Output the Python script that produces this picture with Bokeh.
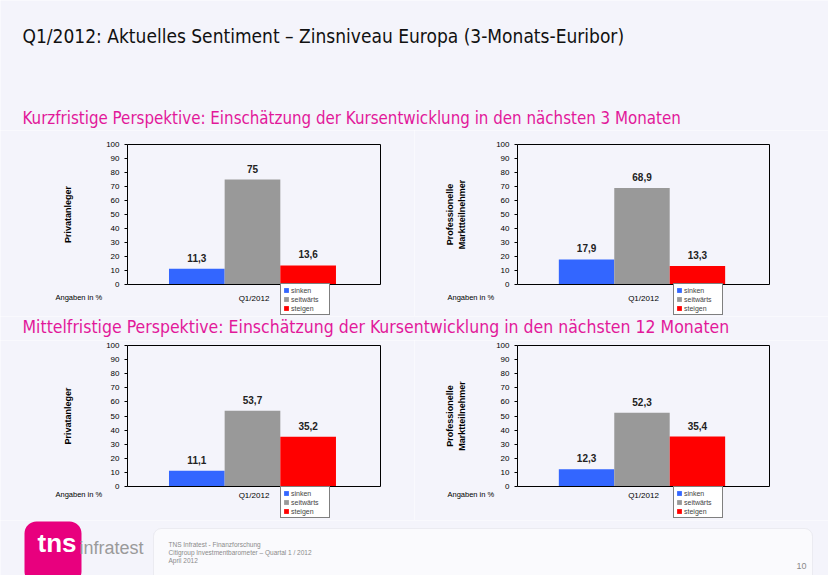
from bokeh.plotting import figure
from bokeh.layouts import column, row
from bokeh.models import (Range1d, Label, Legend, LegendItem, BoxAnnotation, ColumnDataSource,
                          LinearAxis, FixedTicker)
from bokeh.embed import file_html
from bokeh.resources import INLINE
from bokeh.core.properties import value

# ---------------- data ----------------
title_text = "Q1/2012: Aktuelles Sentiment \u2013 Zinsniveau Europa (3-Monats-Euribor)"
subtitle_short = "Kurzfristige Perspektive: Einsch\u00e4tzung der Kursentwicklung in den n\u00e4chsten 3 Monaten"
subtitle_mid = "Mittelfristige Perspektive: Einsch\u00e4tzung der Kursentwicklung in den n\u00e4chsten 12 Monaten"
period = ["Q1/2012"]
categories = ["sinken", "seitw\u00e4rts", "steigen"]
colors = ["#3366ff", "#999999", "#ff0000"]
y_ticks = [0, 10, 20, 30, 40, 50, 60, 70, 80, 90, 100]
kurz_privat = [11.3, 75.0, 13.6]
kurz_prof = [17.9, 68.9, 13.3]
mittel_privat = [11.1, 53.7, 35.2]
mittel_prof = [12.3, 52.3, 35.4]
label_privat = "Privatanleger"
label_prof = "Professionelle\nMarktteilnehmer"
unit_note = "Angaben in %"
footer_lines = ["TNS Infratest - Finanzforschung",
                "Citigroup Investmentbarometer \u2013 Quartal 1 / 2012",
                "April 2012"]
page_no = "10"
logo_main = "tns"
logo_side = "infratest"

# ---------------- style ----------------
BG = "#f4f4fb"
FONT = "Liberation Sans"
COND = "DejaVu Sans Condensed"
MAGENTA = "#e2189a"
offsets = [-0.226, -0.006, 0.214]
bar_w = 0.22


def fmt(v):
    return ("%g" % v).replace(".", ",")


def base_fig(W, H, xr, yr):
    p = figure(output_backend="svg", toolbar_location=None, tools="",
               frame_width=W, frame_height=H, min_border=0,
               x_range=xr, y_range=yr, x_axis_location=None, y_axis_location=None)
    p.border_fill_color = BG
    p.background_fill_color = BG
    p.outline_line_color = None
    p.grid.visible = False
    return p


def chart(values, ylabel, W, H, pl, pw, pt, ph, std_lab, x_std, note_x, note_y, leg_x, leg_y):
    # plot area [0,1] x [0,100] placed at pixel box (pl, pt, pw, ph) of a W x H figure
    xr = Range1d(-pl / pw, 1 + (W - pl - pw) / pw)
    s = ph / 100.0
    yr = Range1d(-(H - pt - ph) / s, 100 + pt / s)
    p = base_fig(W, H, xr, yr)
    items = []
    for i, cat in enumerate(categories):
        xs = [k + 0.5 + offsets[i] for k in range(len(period))]
        src = ColumnDataSource(dict(x=xs, top=[values[i]], label=[fmt(values[i])]))
        r = p.vbar(x="x", top="top", width=bar_w, source=src, fill_color=colors[i], line_color=None)
        p.text(x="x", y="top", text="label", source=src, text_align="center", text_baseline="bottom",
               y_offset=-7, text_font=value(FONT), text_font_size="10px", text_font_style="bold",
               text_color="#222222")
        items.append(LegendItem(label=cat, renderers=[r]))

    yax = LinearAxis(fixed_location=0, bounds=(0, 100), ticker=FixedTicker(ticks=y_ticks))
    yax.major_label_text_font_size = "8px"
    yax.major_label_text_font = FONT
    yax.major_label_text_color = "black"
    yax.major_tick_out = 3
    yax.major_tick_in = 0
    yax.minor_tick_line_color = None
    yax.axis_line_color = "black"
    yax.axis_label = ylabel
    yax.axis_label_text_font = FONT
    yax.axis_label_text_font_size = "9px"
    yax.axis_label_text_font_style = "bold"
    yax.axis_label_text_color = "black"
    yax.axis_label_standoff = std_lab
    p.add_layout(yax, "left")

    xticks = [k + 0.5 for k in range(len(period))]
    xax = LinearAxis(fixed_location=0, bounds=(0, 1), ticker=FixedTicker(ticks=xticks),
                     major_label_overrides={t: lab for t, lab in zip(xticks, period)})
    xax.major_label_text_font_size = "8px"
    xax.major_label_text_font = FONT
    xax.major_label_text_color = "black"
    xax.major_tick_line_color = None
    xax.major_tick_out = 0
    xax.major_tick_in = 0
    xax.minor_tick_line_color = None
    xax.axis_line_color = "black"
    xax.major_label_standoff = x_std
    p.add_layout(xax, "below")

    top_ax = LinearAxis(fixed_location=100, bounds=(0, 1), ticker=FixedTicker(ticks=[]))
    right_ax = LinearAxis(fixed_location=1, bounds=(0, 100), ticker=FixedTicker(ticks=[]))
    for ax in (top_ax, right_ax):
        ax.axis_line_color = "black"
        ax.major_tick_line_color = None
        ax.minor_tick_line_color = None
        ax.major_label_text_alpha = 0
    p.add_layout(top_ax, "above")
    p.add_layout(right_ax, "right")

    p.add_layout(Label(x=note_x, y=note_y, x_units="screen", y_units="screen", text=unit_note,
                       text_font=FONT, text_font_size="7.5px", text_baseline="middle", text_color="black"))
    leg = Legend(items=items, location=(leg_x, leg_y), orientation="vertical",
                 label_text_font=FONT, label_text_font_size="7px", glyph_width=6, glyph_height=6,
                 label_height=8, label_width=36, spacing=1, padding=2, margin=0, label_standoff=2,
                 border_line_color="black", border_line_width=1,
                 background_fill_color="white", background_fill_alpha=1)
    p.add_layout(leg, "center")
    return p


# header (page rows 0..130)
header = base_fig(828, 130, Range1d(0, 828), Range1d(0, 130))
header.add_layout(Label(x=22, y=95, x_units="screen", y_units="screen", text=title_text,
                        text_font=COND, text_font_size="19px", text_baseline="middle", text_color="#111111"))
header.add_layout(Label(x=22, y=13, x_units="screen", y_units="screen", text=subtitle_short,
                        text_font=COND, text_font_size="16.8px", text_baseline="middle", text_color=MAGENTA))

# short-term charts (rows 130..316)
c1 = chart(kurz_privat, label_privat, 414, 186, 127, 253, 14, 140, 30, 9, 55, 19, 280, 1)
c2 = chart(kurz_prof, label_prof, 414, 186, 103, 252, 14, 140, 26, 9, 33, 19, 259, 1)

# second subtitle (rows 316..340)
sub2 = base_fig(828, 24, Range1d(0, 828), Range1d(0, 24))
sub2.add_layout(Label(x=22, y=14, x_units="screen", y_units="screen", text=subtitle_mid,
                      text_font=COND, text_font_size="17.5px", text_baseline="middle", text_color=MAGENTA))

# mid-term charts (rows 340..520)
c3 = chart(mittel_privat, label_privat, 414, 180, 127, 253, 5, 141, 30, 4, 55, 26, 280, 2)
c4 = chart(mittel_prof, label_prof, 414, 180, 103, 252, 5, 141, 26, 4, 33, 26, 259, 2)

# footer (rows 520..575)
footer = base_fig(828, 55, Range1d(0, 828), Range1d(0, 55))
footer.add_layout(BoxAnnotation(left=153, right=812, bottom=-20, top=47, fill_color="white", fill_alpha=0.5,
                                line_color="#cfcfd8", line_width=1, border_radius=8))
footer.add_layout(BoxAnnotation(left=24, right=81, bottom=-8, top=54, fill_color="#e8007e", fill_alpha=1,
                                line_color=None, border_radius=12))
footer.add_layout(Label(x=37, y=18, x_units="screen", y_units="screen", text=logo_main,
                        text_font=FONT, text_font_size="26px", text_font_style="bold", text_color="white"))
footer.add_layout(Label(x=79, y=18, x_units="screen", y_units="screen", text=logo_side,
                        text_font=FONT, text_font_size="18px", text_color="#9a9a9a"))
for i, line in enumerate(footer_lines):
    footer.add_layout(Label(x=168, y=31 - 8 * i, x_units="screen", y_units="screen", text=line,
                            text_font=FONT, text_font_size="6.5px", text_baseline="middle", text_color="#8a8a8a"))
footer.add_layout(Label(x=796, y=7, x_units="screen", y_units="screen", text=page_no,
                        text_font=FONT, text_font_size="9px", text_color="#8a8a8a"))

layout = column(header, row(c1, c2, spacing=0), sub2, row(c3, c4, spacing=0), footer, spacing=0)

open("out.html", "w").write(file_html(layout, INLINE))
